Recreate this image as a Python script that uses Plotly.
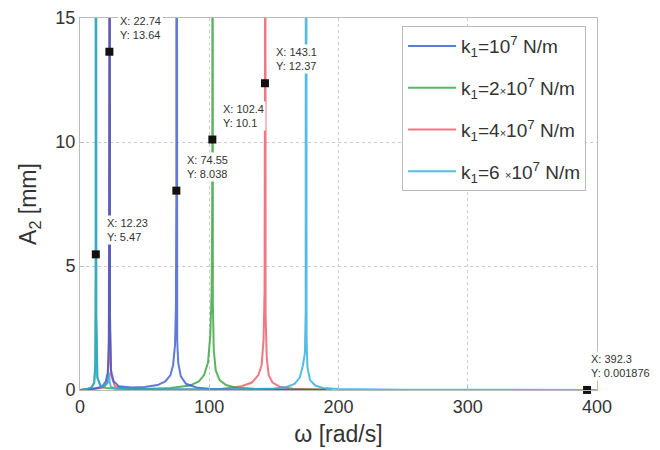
import plotly.graph_objects as go

# ---- data ----
series_names = [
    "k<sub>1</sub>=10<sup>7</sup> N/m",
    "k<sub>1</sub>=2<span style='font-size:11px'>×</span>10<sup>7</sup> N/m",
    "k<sub>1</sub>=4<span style='font-size:11px'>×</span>10<sup>7</sup> N/m",
    "k<sub>1</sub>=6 <span style='font-size:11px'>×</span>10<sup>7</sup> N/m",
]

omega_k1 = [0, 5, 10, 15, 18, 20, 21.5, 22.3, 22.74, 22.8, 23.2, 24, 26, 30, 40, 50, 60, 66, 70,
            72, 73.5, 74.2, 74.4, 74.55, 74.6, 74.8, 75.2, 76, 78, 82, 90, 100, 120, 150, 190]
amp_k1 = [0.0, 0.02, 0.05, 0.1, 0.2, 0.35, 0.7, 2.0, 13.64, 60, 3.0, 0.8, 0.35, 0.15, 0.1, 0.12, 0.2, 0.35, 0.6,
          1.0, 1.8, 3.3, 5.4, 8.038, 60, 4.5, 2.0, 1.1, 0.55, 0.25, 0.1, 0.05, 0.02, 0.01, 0.005]

omega_k2 = [0, 5, 9, 11, 11.8, 12.1, 12.23, 12.3, 12.6, 13.5, 16, 20, 30, 50, 70, 85, 92, 96, 99,
            100.8, 101.8, 102.2, 102.4, 102.5, 102.8, 103.5, 105, 108, 113, 120, 135, 160, 190]
amp_k2 = [0.0, 0.03, 0.1, 0.3, 1.0, 2.5, 5.47, 60, 3.0, 0.5, 0.15, 0.08, 0.05, 0.04, 0.08, 0.18, 0.35, 0.6, 1.1,
          2.2, 3.9, 6.5, 10.1, 60, 3.5, 1.6, 0.8, 0.4, 0.2, 0.1, 0.05, 0.02, 0.01]

omega_k4 = [0, 10, 18, 21, 22.3, 22.7, 22.85, 23.2, 24, 27, 35, 60, 90, 110, 125, 133, 138, 140.5,
            142, 142.8, 143.1, 143.2, 143.6, 144.5, 146, 149, 155, 165, 180, 195]
amp_k4 = [0.0, 0.03, 0.1, 0.3, 1.2, 6.0, 60, 2.5, 0.6, 0.15, 0.05, 0.02, 0.02, 0.05, 0.15, 0.3, 0.6, 1.0,
          2.0, 4.0, 12.37, 60, 3.0, 1.3, 0.6, 0.3, 0.12, 0.05, 0.02, 0.01]

omega_k6 = [0, 5, 9, 11, 11.9, 12.15, 12.28, 12.5, 13.3, 16, 20, 21.5, 22.4, 23, 24, 28, 40, 70, 100,
            130, 150, 160, 166, 170, 172.5, 174, 174.6, 174.9, 175.3, 176, 178, 182, 188, 200, 250,
            300, 350, 392.3, 400]
amp_k6 = [0.0, 0.03, 0.1, 0.3, 1.0, 3.0, 60, 3.0, 0.5, 0.15, 0.2, 0.3, 0.7, 0.3, 0.12, 0.05, 0.03, 0.02, 0.02,
          0.03, 0.06, 0.12, 0.25, 0.5, 1.0, 1.5, 3.1, 60, 2.0, 0.9, 0.4, 0.18, 0.08, 0.04, 0.01,
          0.005, 0.003, 0.001876, 0.0017]

tip_x = [12.23, 22.74, 74.55, 102.4, 143.1, 392.3]
tip_y = [5.47, 13.64, 8.038, 10.1, 12.37, 0.001876]
tip_xlabel = ["12.23", "22.74", "74.55", "102.4", "143.1", "392.3"]
tip_ylabel = ["5.47", "13.64", "8.038", "10.1", "12.37", "0.001876"]
tip_shift = [9, 9, 9, 9, 9, 2]

colors = ["rgba(50,85,205,0.78)", "rgba(45,160,50,0.78)", "rgba(235,75,90,0.75)", "rgba(35,170,225,0.78)"]

omegas = [omega_k1, omega_k2, omega_k4, omega_k6]
amps = [amp_k1, amp_k2, amp_k4, amp_k6]
draw_order = [2, 1, 0, 3]   # red, green, blue, cyan (legend order kept via legendrank)

FONT = "Liberation Sans, Arial, sans-serif"

fig = go.Figure()
for i in draw_order:
    fig.add_trace(go.Scatter(x=omegas[i], y=amps[i], mode="lines", name=series_names[i],
                             legendrank=i + 1, legendgroup=f"g{i}",
                             line=dict(color=colors[i], width=2)))

fig.add_trace(go.Scatter(x=tip_x, y=tip_y, mode="markers", showlegend=False,
                         marker=dict(symbol="square", size=8, color="#151010"),
                         cliponaxis=False))

for xv, yv, xl, yl, sh in zip(tip_x, tip_y, tip_xlabel, tip_ylabel, tip_shift):
    fig.add_annotation(x=xv, y=yv, text=f"X: {xl}<br>Y: {yl}", showarrow=False,
                       xanchor="left", yanchor="bottom", xshift=sh, yshift=9,
                       align="left", bgcolor="white", borderpad=1,
                       font=dict(family=FONT, size=11, color="#333"))

axis_common = dict(showline=True, linecolor="#bbbbbb", linewidth=1, mirror=True,
                   showgrid=True, gridcolor="#cccccc", griddash="dot", gridwidth=1,
                   ticks="inside", ticklen=4, tickcolor="#bbbbbb",
                   tickfont=dict(family=FONT, size=18, color="#333"),
                   zeroline=False, automargin=False)

fig.update_xaxes(range=[0, 400], tickvals=[0, 100, 200, 300, 400],
                 title=dict(text="ω [rad/s]", font=dict(family=FONT, size=23, color="#333"), standoff=10),
                 **axis_common)
fig.update_yaxes(range=[0, 15], tickvals=[0, 5, 10, 15],
                 title=dict(text="A<sub>2</sub> [mm]", font=dict(family=FONT, size=23, color="#333"), standoff=12),
                 **axis_common)

fig.update_layout(
    width=652, height=442,
    margin=dict(l=72, r=63, t=10, b=60),
    paper_bgcolor="white", plot_bgcolor="white",
    showlegend=True,
    legend=dict(x=0.623, y=0.978, xanchor="left", yanchor="top",
                bgcolor="white", bordercolor="#bbbbbb", borderwidth=1,
                tracegroupgap=14, traceorder="grouped", itemwidth=48,
                font=dict(family=FONT, size=19, color="#333")),
)

fig.write_html("out.html")
